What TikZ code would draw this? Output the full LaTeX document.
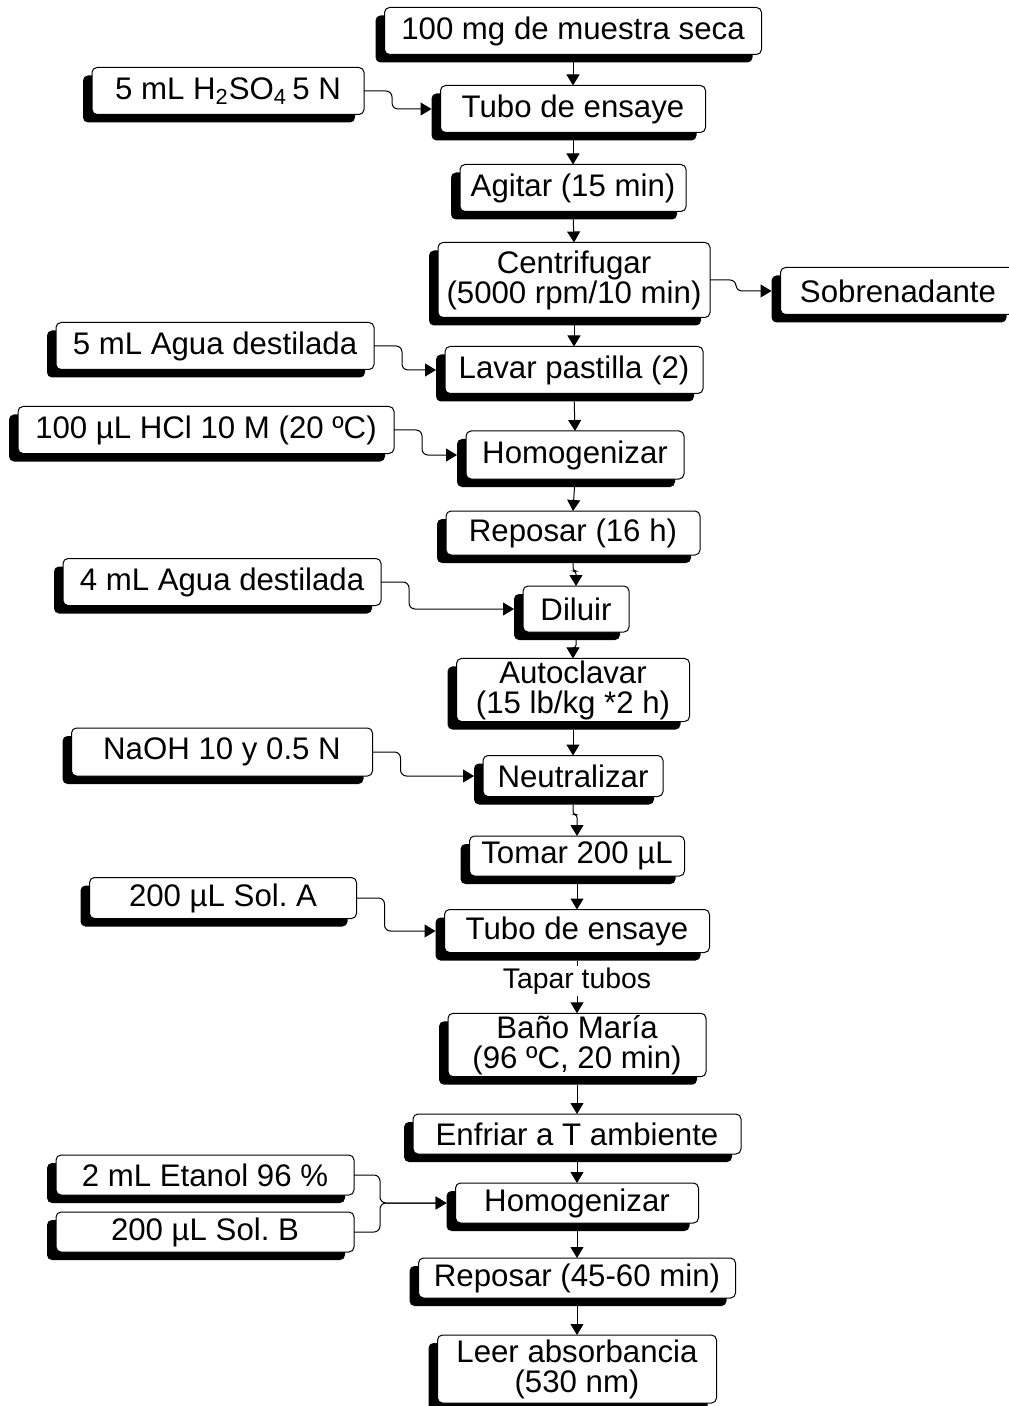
\documentclass[tikz,border=0pt]{standalone}
\usepackage{fontspec}
\setmainfont{Liberation Sans}
\frenchspacing
\usetikzlibrary{arrows.meta,shadows}
\tikzset{
	stepbox/.style={draw, fill=white, rounded corners=2.5pt, align=center,
		inner sep=1pt, outer sep=0, font=\fontsize{15.6}{15}\selectfont,
		drop shadow={shadow xshift=-4.5pt, shadow yshift=-4pt, opacity=1, fill=black}},
	wh/.style 2 args={minimum width=#1*0.5pt, minimum height=#2*0.5pt},
	feed/.style={draw, rounded corners=3pt, shorten >=4.5pt},
	jog/.style={draw, rounded corners=1.5pt, shorten <=4pt},
	tag/.style={fill=white, inner sep=1pt, font=\fontsize{14.2}{15}\selectfont}
}

\begin{document}
\begin{tikzpicture}[x=0.5pt, y=-0.5pt, -{Triangle[length=5.5pt,width=6.5pt]}, line width=0.5pt,
		every edge/.append style={shorten <=4pt}]
	\useasboundingbox (0,0) rectangle (1008,1406);
	% main column
	\node[stepbox, wh={377}{47}] (muestra) at (573,31) {100 mg de muestra seca};
	\node[stepbox, wh={265}{47}] (tubo1) at (573,109) {Tubo de ensaye};
	\node[stepbox, wh={226}{47}] (agitar) at (573,188) {Agitar (15 min)};
	\node[stepbox, wh={272}{75}] (centri) at (574,280) {Centrifugar\\(5000 rpm/10 min)};
	\node[stepbox, wh={258}{47}] (lavar) at (574,370) {Lavar pastilla (2)};
	\node[stepbox, wh={218}{48}] (homo1) at (575,455) {Homogenizar};
	\node[stepbox, wh={254}{44}] (repo1) at (573,533) {Reposar (16 h)};
	\node[stepbox, wh={106}{46}] (diluir) at (576,609) {Diluir};
	\node[stepbox, wh={233}{60}] (autoc) at (573,690) {Autoclavar\\(15 lb/kg *2 h)};
	\node[stepbox, wh={180}{41}] (neutra) at (573,776) {Neutralizar};
	\node[stepbox, wh={215}{40}] (tomar) at (577,856) {Tomar 200 µL};
	\node[stepbox, wh={265}{43}] (tubo2) at (577,931) {Tubo de ensaye};
	\node[stepbox, wh={258}{63}] (bano) at (577,1045) {Baño María\\(96 ºC, 20 min)};
	\node[stepbox, wh={328}{40}] (enfriar) at (577,1134) {Enfriar a T ambiente};
	\node[stepbox, wh={243}{40}] (homo2) at (577,1203) {Homogenizar};
	\node[stepbox, wh={317}{40}] (repo2) at (577,1278) {Reposar (45-60 min)};
	\node[stepbox, wh={279}{68}] (leer) at (577,1369) {Leer absorbancia\\(530 nm)};
	% side inputs
	\node[stepbox, wh={272}{47}] (acido) at (228,91) {5 mL H\textsubscript{2}SO\textsubscript{4}\,5 N};
	\node[stepbox, wh={235}{47}] (sobre) at (898,291) {Sobrenadante};
	\node[stepbox, wh={318}{47}] (agua1) at (215,346) {5 mL Agua destilada};
	\node[stepbox, wh={376}{47}] (hcl) at (206,430) {100 µL HCl 10 M (20 ºC)};
	\node[stepbox, wh={318}{47}] (agua2) at (222,582) {4 mL Agua destilada};
	\node[stepbox, wh={301}{48}] (naoh) at (222,752) {NaOH 10 y 0.5 N};
	\node[stepbox, wh={267}{41}] (sola) at (223,898) {200 µL Sol. A};
	\node[stepbox, wh={298}{40}] (etanol) at (205,1175) {2 mL Etanol 96 \%};
	\node[stepbox, wh={298}{40}] (solb) at (205,1232) {200 µL Sol. B};

	\path (muestra.south) edge (tubo1.north);
	\path (tubo1.south) edge (agitar.north);
	\path (agitar.south) edge (centri.north);
	\path (centri.south) edge (lavar.north);
	\path (lavar.south) edge (homo1.north);
	\path (homo1.south) edge (repo1.north);
	\draw[jog] (repo1.south) -- ++(0,16) -| (diluir.north);
	\draw[jog] (diluir.south) -- ++(0,16) -| (autoc.north);
	\path (autoc.south) edge (neutra.north);
	\draw[jog] (neutra.south) -- ++(0,18) -| (tomar.north);
	\path (tomar.south) edge (tubo2.north);
	\path (tubo2.south) edge node[tag, pos=0.47] (tapar) {Tapar tubos} (bano.north);
	\path (bano.south) edge (enfriar.north);
	\path (enfriar.south) edge (homo2.north);
	\path (homo2.south) edge (repo2.north);
	\path (repo2.south) edge (leer.north);

	\draw[feed] (acido.east) -- ++(28,0) |- (tubo1.west);
	\draw[feed] (centri.east) -- ++(26,0) |- (sobre.west);
	\draw[feed] (agua1.east) -- ++(28,0) |- (lavar.west);
	\draw[feed] (hcl.east) -- ++(28,0) |- (homo1.west);
	\draw[feed] (agua2.east) -- ++(28,0) |- (diluir.west);
	\draw[feed] (naoh.east) -- ++(28,0) |- (neutra.west);
	\draw[feed] (sola.east) -- ++(28,0) |- (tubo2.west);
	\draw[feed] (etanol.east) -- ++(26,0) |- (homo2.west);
	\draw[feed] (solb.east) -- ++(26,0) |- (homo2.west);
\end{tikzpicture}
\end{document}
